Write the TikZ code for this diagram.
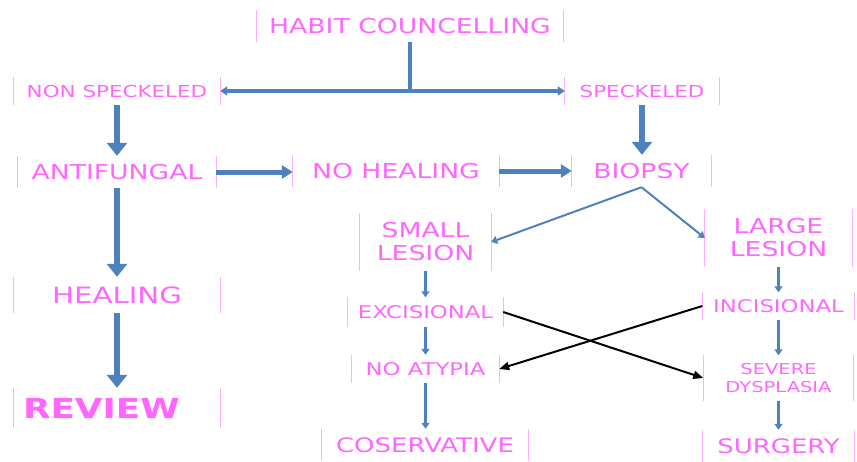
\documentclass[tikz,border=0pt]{standalone}
\usepackage{fontspec}
\setmainfont{DejaVu Sans}[FakeStretch=1.3]
\usetikzlibrary{arrows.meta}
\definecolor{txtpink}{RGB}{255,102,255}
\definecolor{barpink}{RGB}{255,175,255}
\definecolor{arrblue}{RGB}{79,129,189}
\newcommand\sides[1]{\draw[side] (#1.north west) -- (#1.south west) (#1.north east) -- (#1.south east);}
\begin{document}
\begin{tikzpicture}[x=1pt,y=-1pt,
  box/.style={text=txtpink, inner sep=0pt, align=center, font=\fontsize{20.5}{23}\selectfont},
  side/.style={draw=barpink, line width=0.7pt},
  fat/.style={draw=arrblue, line width=6pt, -{Triangle[width=20pt,length=13pt]}},
  mid/.style={draw=arrblue, line width=5pt, -{Triangle[width=13pt,length=11pt]}},
  thin/.style={draw=arrblue, line width=2.5pt, -{Triangle[width=8pt,length=6pt]}},
  cross/.style={draw=black, line width=2pt, -{Triangle[width=8pt,length=10pt]}}]
\useasboundingbox (0,0) rectangle (857,461);
% left column
\node[box, minimum width=307, minimum height=31] (hc) at (410,26) {HABIT COUNCELLING};
\node[box, font=\fontsize{16.5}{19}\selectfont, minimum width=206, minimum height=27] (nsp) at (117,91) {NON SPECKELED};
\node[box, font=\fontsize{16.5}{19}\selectfont, minimum width=154, minimum height=27] (sp) at (642,91) {SPECKELED};
\node[box, minimum width=198, minimum height=32] (af) at (117,172) {ANTIFUNGAL};
\node[box, minimum width=206, minimum height=32] (nh) at (396,171) {NO HEALING};
\node[box, minimum width=139, minimum height=32] (bio) at (641.5,171) {BIOPSY};
\node[box, font=\fontsize{22.5}{26}\selectfont, minimum width=206, minimum height=36] (heal) at (117,295) {HEALING};
\node[box, font=\fontsize{27.5}{30}\selectfont\bfseries, minimum width=206, minimum height=40] (rev) at (117,408) {\makebox[192pt][l]{\hspace{2pt}REVIEW}};
% middle column
\node[box, minimum width=131, minimum height=57] (sl) at (425.5,242) {SMALL\\LESION};
\node[box, font=\fontsize{17.5}{20}\selectfont, minimum width=155, minimum height=29] (exc) at (425.5,312) {EXCISIONAL};
\node[box, font=\fontsize{17.5}{20}\selectfont, minimum width=147, minimum height=28] (noa) at (425.5,369) {NO ATYPIA};
\node[box, font=\fontsize{20}{23}\selectfont, minimum width=206, minimum height=32] (cons) at (425,445) {COSERVATIVE};
% right column
\node[box, minimum width=147, minimum height=57] (ll) at (778.5,238) {LARGE\\LESION};
\node[box, font=\fontsize{17.5}{20}\selectfont, minimum width=152, minimum height=27] (inc) at (778.5,306) {INCISIONAL};
\node[box, font=\fontsize{15}{18}\selectfont, minimum width=150, minimum height=45] (sev) at (778.5,378) {SEVERE\\DYSPLASIA};
\node[box, font=\fontsize{20}{23}\selectfont, minimum width=151, minimum height=32] (sur) at (778.5,446) {SURGERY};
\foreach \n in {hc,nsp,sp,af,nh,bio,heal,rev,sl,exc,noa,cons,ll,inc,sev,sur} {\sides{\n}}
% connectors
\coordinate (jn) at (hc.south |- nsp.east);
\draw[draw=arrblue, line width=4pt] (hc.south) -- (jn);
\draw[draw=arrblue, line width=4pt, {Triangle[width=9pt,length=7pt]}-{Triangle[width=9pt,length=7pt]}] (nsp.east) -- (sp.west);
\draw[fat] (nsp.south) -- (af.north);
\draw[fat] (sp.south) -- (sp.south |- bio.north);
\draw[fat] (af.south) -- (heal.north);
\draw[fat] (heal.south) -- (rev.north);
\draw[mid] (af.east) -- (af.east -| nh.west);
\draw[mid] (nh.east) -- (nh.east -| bio.west);
\draw[thin, line width=2pt] (bio.south) -- (sl.east);
\draw[thin, line width=2pt] (bio.south) -- (ll.west);
\draw[thin] (sl.south) -- (exc.north);
\draw[thin] (exc.south) -- (noa.north);
\draw[thin] (noa.south) -- (noa.south |- cons.north);
\draw[thin] (ll.south) -- (inc.north);
\draw[thin] (inc.south) -- (sev.north);
\draw[thin] (sev.south) -- (sur.north);
\draw[cross] (exc.east) -- (sev.west);
\draw[cross] (inc.west) -- (noa.east);
\end{tikzpicture}
\end{document}
